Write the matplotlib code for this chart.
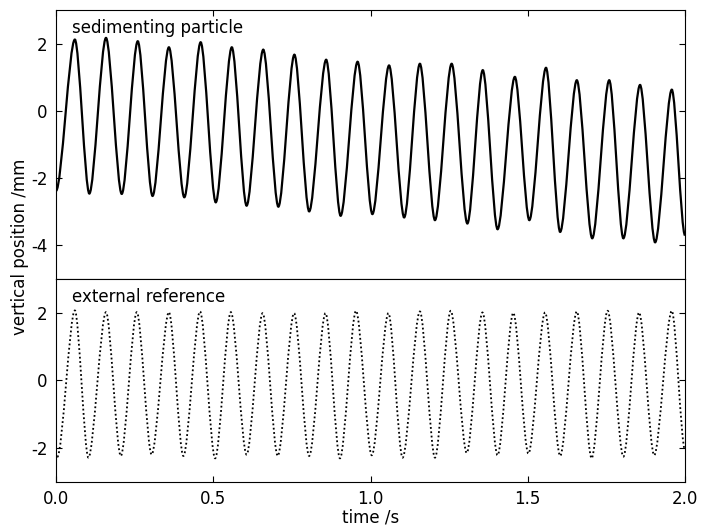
import numpy as np
import matplotlib
matplotlib.use("Agg")
import matplotlib.pyplot as plt
from matplotlib.path import Path
from matplotlib.patches import PathPatch

# extrema (time /s, position /mm)
particle_start = (0.0, -2.38)
particle_end = (2.0, -3.70)
particle_peak_t = [0.060, 0.159, 0.260, 0.359, 0.460, 0.559, 0.659, 0.758, 0.859, 0.959,
                   1.059, 1.157, 1.258, 1.357, 1.459, 1.558, 1.656, 1.759, 1.857, 1.958]
particle_peak_y = [2.12, 2.17, 2.07, 1.89, 2.04, 1.89, 1.82, 1.67, 1.52, 1.46,
                   1.35, 1.40, 1.40, 1.21, 1.01, 1.28, 0.91, 0.91, 0.77, 0.63]
particle_trough_t = [0.106, 0.209, 0.307, 0.408, 0.508, 0.606, 0.707, 0.805, 0.905, 1.006,
                     1.107, 1.205, 1.308, 1.404, 1.505, 1.603, 1.705, 1.804, 1.905]
particle_trough_y = [-2.46, -2.47, -2.53, -2.57, -2.72, -2.82, -2.85, -2.99, -3.12, -3.07,
                     -3.17, -3.25, -3.35, -3.52, -3.25, -3.60, -3.79, -3.79, -3.91]

reference_end = (2.0, -2.05)
reference_trough_t = [0.004, 0.103, 0.206, 0.304, 0.405, 0.506, 0.606, 0.705, 0.805, 0.903,
                      1.004, 1.102, 1.205, 1.306, 1.404, 1.502, 1.603, 1.703, 1.804, 1.902]
reference_trough_y = [-2.26, -2.28, -2.23, -2.19, -2.23, -2.30, -2.19, -2.23, -2.23, -2.30,
                      -2.21, -2.28, -2.28, -2.14, -2.21, -2.16, -2.23, -2.30, -2.25, -2.21]
reference_peak_t = [0.060, 0.159, 0.257, 0.359, 0.458, 0.556, 0.657, 0.757, 0.857, 0.954,
                    1.057, 1.157, 1.255, 1.356, 1.454, 1.555, 1.656, 1.754, 1.854, 1.958]
reference_peak_y = [2.07, 2.02, 2.02, 2.02, 2.04, 2.02, 1.99, 1.99, 1.99, 2.06,
                    1.99, 2.04, 2.06, 2.01, 2.00, 2.01, 2.04, 2.06, 2.01, 2.06]

x_ticks = [0.0, 0.5, 1.0, 1.5, 2.0]
x_ticklabels = ["0.0", "0.5", "1.0", "1.5", "2.0"]


def interleave(first, second):
	out = []
	for i in range(max(len(first), len(second))):
		if i < len(first):
			out.append(first[i])
		if i < len(second):
			out.append(second[i])
	return out


# smooth curve through the extrema, flat tangent at every turning point
def wave_path(ts, ys, k=0.3):
	verts = [(ts[0], ys[0])]
	codes = [Path.MOVETO]
	for t0, y0, t1, y1 in zip(ts[:-1], ys[:-1], ts[1:], ys[1:]):
		d = k * (t1 - t0)
		verts += [(t0 + d, y0), (t1 - d, y1), (t1, y1)]
		codes += [Path.CURVE4] * 3
	return Path(verts, codes)


plt.rcParams['font.family'] = ['DejaVu Sans']
plt.rcParams['font.size'] = 12
plt.rcParams['axes.unicode_minus'] = False
plt.rcParams['xtick.direction'] = 'in'
plt.rcParams['ytick.direction'] = 'in'
plt.rcParams['xtick.major.size'] = 4
plt.rcParams['ytick.major.size'] = 4
plt.rcParams['xtick.major.pad'] = 6
plt.rcParams['ytick.major.pad'] = 6

fig = plt.figure(figsize=(7.07, 5.25), dpi=100)
ax1 = fig.add_axes([0.0792, 0.4686, 0.8897, 0.5124])
ax2 = fig.add_axes([0.0792, 0.0819, 0.8897, 0.3867])

# sedimenting particle
p_t = [particle_start[0]] + interleave(particle_peak_t, particle_trough_t) + [particle_end[0]]
p_y = [particle_start[1]] + interleave(particle_peak_y, particle_trough_y) + [particle_end[1]]
ax1.add_patch(PathPatch(wave_path(p_t, p_y), facecolor='none', edgecolor='black',
                        lw=1.6, transform=ax1.transData, clip_on=True))
ax1.set_xlim(0, 2)
ax1.set_ylim(-5, 3)
ax1.set_yticks([-4, -2, 0, 2])
ax1.set_xticks(x_ticks)
ax1.tick_params(top=True, bottom=False, labelbottom=False, right=True)
ax1.text(0.025, 0.968, "sedimenting particle", transform=ax1.transAxes, va='top', ha='left')

# external reference
r_t = interleave(reference_trough_t, reference_peak_t) + [reference_end[0]]
r_y = interleave(reference_trough_y, reference_peak_y) + [reference_end[1]]
ax2.add_patch(PathPatch(wave_path(r_t, r_y), facecolor='none', edgecolor='black',
                        lw=1.3, linestyle=(0, (1, 1.4)), transform=ax2.transData, clip_on=True))
ax2.set_xlim(0, 2)
ax2.set_ylim(-3, 3)
ax2.set_yticks([-2, 0, 2])
ax2.set_xticks(x_ticks)
ax2.set_xticklabels(x_ticklabels)
ax2.tick_params(top=False, right=True)
ax2.text(0.025, 0.958, "external reference", transform=ax2.transAxes, va='top', ha='left')
ax2.set_xlabel("time /s", labelpad=0)

fig.text(0.028, 0.53, "vertical position /mm", rotation=90, va='center', ha='center')

fig.savefig("out.png", dpi=100, facecolor='white')
